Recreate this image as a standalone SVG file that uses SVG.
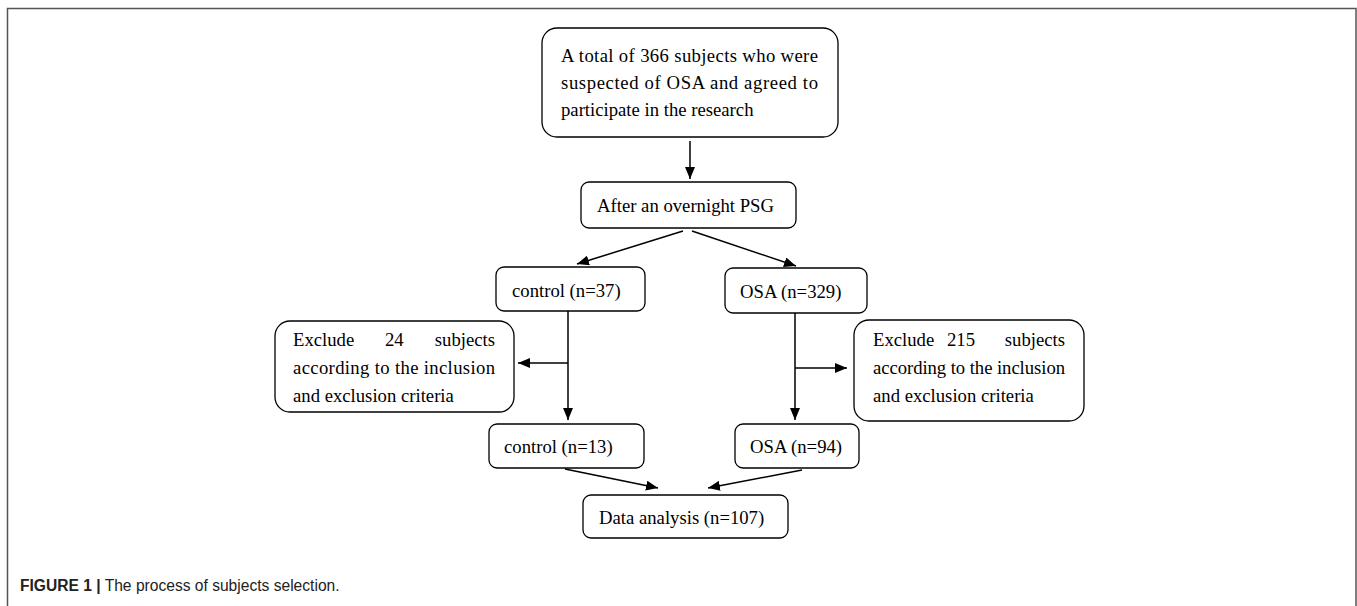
<svg xmlns="http://www.w3.org/2000/svg" width="1357" height="606" viewBox="0 0 1357 606">
<defs>
<style>
.box{fill:#fff;stroke:#000;stroke-width:1.3}
.t{font-family:"Liberation Serif","Times New Roman",serif;font-size:18.7px;fill:#000}
.ln{stroke:#000;stroke-width:1.5;fill:none}
.frame{stroke:#555;stroke-width:1.5;fill:none}
.cap{font-family:"Liberation Sans",Arial,sans-serif;font-size:15.6px;fill:#222}
</style>
<marker id="ah" viewBox="0 0 12 10" refX="12" refY="5" markerWidth="12" markerHeight="10" markerUnits="userSpaceOnUse" orient="auto">
<path d="M0,0 L12,5 L0,10 z" fill="#000"/>
</marker>
</defs>
<rect width="1357" height="606" fill="#fff"/>
<path class="frame" d="M7.5,606 V8.5 H1356 V606"/>

<g id="n-top">
<rect class="box" x="542" y="28" width="296" height="109" rx="15"/>
<text class="t" x="561" y="62" textLength="257" lengthAdjust="spacing">A total of 366 subjects who were</text>
<text class="t" x="561" y="89" textLength="257" lengthAdjust="spacing">suspected of OSA and agreed to</text>
<text class="t" x="561" y="116">participate in the research</text>
</g>
<g id="n-psg">
<rect class="box" x="581" y="182" width="215" height="46" rx="8"/>
<text class="t" x="597" y="212">After an overnight PSG</text>
</g>
<g id="n-control37">
<rect class="box" x="496" y="267" width="149" height="44" rx="8"/>
<text class="t" x="512" y="297">control (n=37)</text>
</g>
<g id="n-osa329">
<rect class="box" x="725" y="268" width="142" height="45" rx="8"/>
<text class="t" x="740" y="298">OSA (n=329)</text>
</g>
<g id="n-excl24">
<rect class="box" x="275" y="321" width="239" height="91" rx="15"/>
<text class="t" x="293" y="346">Exclude</text>
<text class="t" x="385" y="346">24</text>
<text class="t" x="495" y="346" text-anchor="end">subjects</text>
<text class="t" x="293" y="374" textLength="202" lengthAdjust="spacing">according to the inclusion</text>
<text class="t" x="293" y="402">and exclusion criteria</text>
</g>
<g id="n-excl215">
<rect class="box" x="854" y="320" width="230" height="101" rx="15"/>
<text class="t" x="873" y="346">Exclude</text>
<text class="t" x="947" y="346">215</text>
<text class="t" x="1065" y="346" text-anchor="end">subjects</text>
<text class="t" x="873" y="374" textLength="192" lengthAdjust="spacing">according to the inclusion</text>
<text class="t" x="873" y="402">and exclusion criteria</text>
</g>
<g id="n-control13">
<rect class="box" x="489" y="424" width="155" height="44" rx="8"/>
<text class="t" x="504" y="453">control (n=13)</text>
</g>
<g id="n-osa94">
<rect class="box" x="735" y="424" width="124" height="44" rx="8"/>
<text class="t" x="750" y="453">OSA (n=94)</text>
</g>
<g id="n-data">
<rect class="box" x="583" y="495" width="205" height="43" rx="8"/>
<text class="t" x="599" y="524">Data analysis (n=107)</text>
</g>

<g id="connectors">
<line class="ln" x1="690" y1="141" x2="690" y2="179" marker-end="url(#ah)"/>
<line class="ln" x1="683" y1="231" x2="577" y2="264" marker-end="url(#ah)"/>
<line class="ln" x1="692" y1="231" x2="796" y2="266" marker-end="url(#ah)"/>
<line class="ln" x1="568" y1="311" x2="568" y2="420" marker-end="url(#ah)"/>
<line class="ln" x1="568" y1="363" x2="518" y2="363" marker-end="url(#ah)"/>
<line class="ln" x1="795" y1="313" x2="795" y2="420" marker-end="url(#ah)"/>
<line class="ln" x1="795" y1="368" x2="847" y2="368" marker-end="url(#ah)"/>
<line class="ln" x1="565" y1="469" x2="658" y2="488" marker-end="url(#ah)"/>
<line class="ln" x1="802" y1="470" x2="708" y2="488" marker-end="url(#ah)"/>
</g>

<text class="cap" x="20" y="591"><tspan font-weight="bold">FIGURE 1 |</tspan> The process of subjects selection.</text>
</svg>
